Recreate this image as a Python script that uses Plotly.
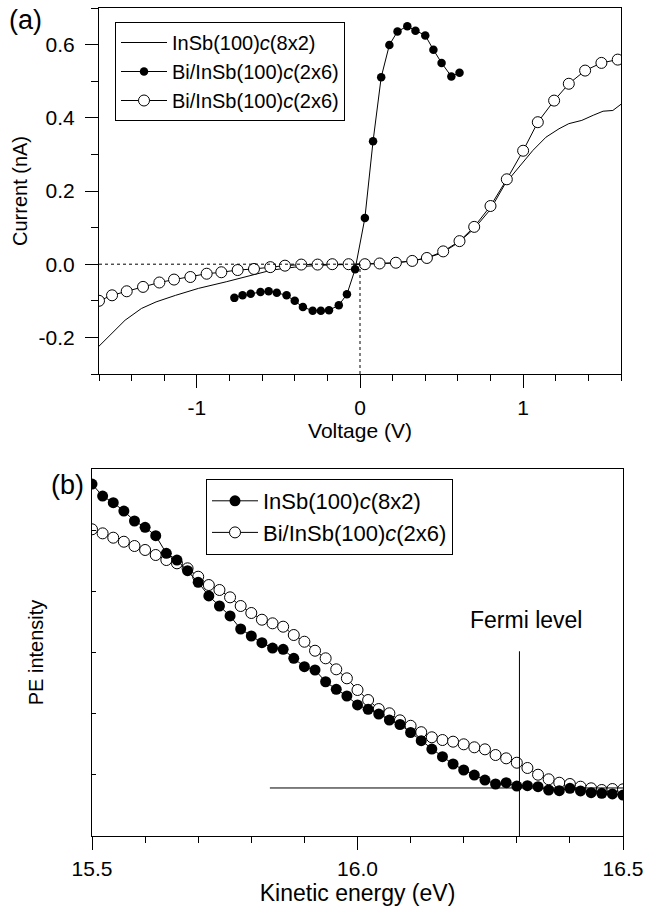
import plotly.graph_objects as go

# ---------------- Panel (a) data: I-V curves ----------------
v_line = [-1.6, -1.54, -1.44, -1.34, -1.25, -1.13, -0.99, -0.82, -0.66, -0.54, -0.4, -0.25,
          -0.1, 0.0, 0.1, 0.2, 0.3, 0.4, 0.5, 0.6, 0.7, 0.8, 0.89, 0.99, 1.06, 1.14, 1.22,
          1.28, 1.36, 1.43, 1.49, 1.55, 1.6]
i_line = [-0.224, -0.198, -0.153, -0.121, -0.103, -0.085, -0.066, -0.048, -0.030, -0.016,
          -0.008, -0.003, -0.001, 0.0, 0.001, 0.003, 0.008, 0.016, 0.030, 0.058, 0.097,
          0.150, 0.220, 0.275, 0.311, 0.347, 0.370, 0.384, 0.393, 0.407, 0.418, 0.420, 0.437]

v_filled = [-0.77, -0.72, -0.67, -0.61, -0.56, -0.51, -0.45, -0.40, -0.35, -0.29, -0.24,
            -0.19, -0.13, -0.08, -0.03, 0.03, 0.08, 0.13, 0.18, 0.23, 0.29, 0.34, 0.40,
            0.45, 0.50, 0.56, 0.61]
i_filled = [-0.092, -0.085, -0.081, -0.076, -0.074, -0.078, -0.085, -0.100, -0.117, -0.127,
            -0.127, -0.126, -0.112, -0.082, -0.014, 0.126, 0.336, 0.511, 0.599, 0.636,
            0.650, 0.638, 0.625, 0.586, 0.550, 0.513, 0.523]

v_open = [-1.60, -1.52, -1.43, -1.33, -1.23, -1.14, -1.04, -0.94, -0.85, -0.75, -0.65,
          -0.55, -0.46, -0.36, -0.26, -0.17, -0.07, 0.03, 0.12, 0.22, 0.32, 0.41, 0.51,
          0.61, 0.70, 0.80, 0.90, 1.00, 1.09, 1.19, 1.28, 1.38, 1.48, 1.58]
i_open = [-0.100, -0.085, -0.074, -0.062, -0.050, -0.042, -0.035, -0.026, -0.022, -0.016,
          -0.013, -0.008, -0.004, -0.001, -0.001, 0.0, 0.0, 0.0, 0.002, 0.004, 0.009,
          0.017, 0.035, 0.063, 0.102, 0.159, 0.232, 0.310, 0.388, 0.447, 0.493, 0.529,
          0.550, 0.559]

labels_a = ["InSb(100)<i>c</i>(8x2)", "Bi/InSb(100)<i>c</i>(2x6)", "Bi/InSb(100)<i>c</i>(2x6)"]

v_ticks = [-1, 0, 1]
v_ticktext = ["-1", "0", "1"]
i_ticks = [-0.2, 0.0, 0.2, 0.4, 0.6]
i_ticktext = ["-0.2", "0.0", "0.2", "0.4", "0.6"]

zero_h_x = [-1.6, 0.0]
zero_h_y = [0.0, 0.0]
zero_v_x = [0.0, 0.0]
zero_v_y = [-0.3, 0.0]

# ---------------- Panel (b) data: photoemission ----------------
ke = [round(15.5 + 0.02 * k, 2) for k in range(51)]  # 0.02 eV sampling grid
pe_insb = [5.754, 5.558, 5.449, 5.313, 5.150, 5.047, 4.909, 4.622, 4.512, 4.337, 4.148,
           3.924, 3.760, 3.597, 3.384, 3.270, 3.160, 3.073, 3.052, 2.905, 2.768, 2.714,
           2.522, 2.398, 2.289, 2.142, 2.071, 1.994, 1.896, 1.823, 1.692, 1.558, 1.422,
           1.296, 1.177, 1.079, 0.997, 0.915, 0.850, 0.871, 0.817, 0.822, 0.806, 0.752,
           0.741, 0.780, 0.736, 0.708, 0.698, 0.687, 0.670]
pe_bi = [5.014, 4.948, 4.877, 4.811, 4.741, 4.676, 4.594, 4.512, 4.458, 4.376, 4.239,
         4.103, 4.022, 3.902, 3.760, 3.646, 3.536, 3.477, 3.422, 3.286, 3.176, 3.029,
         2.905, 2.725, 2.578, 2.387, 2.223, 2.076, 2.006, 1.891, 1.802, 1.697, 1.614,
         1.569, 1.542, 1.499, 1.450, 1.417, 1.324, 1.270, 1.198, 1.112, 1.002, 0.927,
         0.871, 0.850, 0.806, 0.780, 0.752, 0.768, 0.763]
labels_b = ["InSb(100)<i>c</i>(8x2)", "Bi/InSb(100)<i>c</i>(2x6)"]

ke_ticks = [15.5, 16.0, 16.5]
ke_ticktext = ["15.5", "16.0", "16.5"]

fermi_x = [16.305, 16.305]
fermi_y = [0.0, 3.02]
base_x = [15.835, 16.5]
base_y = [0.785, 0.785]

FONT = "Liberation Sans, Arial, sans-serif"
W, H = 647, 911

fig = go.Figure()

# Panel (a)
fig.add_trace(go.Scatter(x=v_line, y=i_line, mode="lines", name=labels_a[0],
                         line=dict(color="black", width=1), legend="legend", legendrank=1,
                         xaxis="x", yaxis="y"))
fig.add_trace(go.Scatter(x=v_open, y=i_open, mode="lines+markers", name=labels_a[2],
                         line=dict(color="black", width=1),
                         marker=dict(symbol="circle", size=11, color="white",
                                     line=dict(color="black", width=1)),
                         legend="legend", legendrank=3, xaxis="x", yaxis="y"))
fig.add_trace(go.Scatter(x=v_filled, y=i_filled, mode="lines+markers", name=labels_a[1],
                         line=dict(color="black", width=1),
                         marker=dict(symbol="circle", size=8.5, color="black",
                                     line=dict(color="black", width=0)),
                         legend="legend", legendrank=2, xaxis="x", yaxis="y"))

# Panel (b)
fig.add_trace(go.Scatter(x=ke, y=pe_bi, mode="lines+markers", name=labels_b[1],
                         line=dict(color="black", width=1),
                         marker=dict(symbol="circle", size=11, color="white",
                                     line=dict(color="black", width=1)),
                         legend="legend2", legendrank=2, xaxis="x2", yaxis="y2"))
fig.add_trace(go.Scatter(x=ke, y=pe_insb, mode="lines+markers", name=labels_b[0],
                         line=dict(color="black", width=1),
                         marker=dict(symbol="circle", size=11, color="black",
                                     line=dict(color="black", width=0)),
                         legend="legend2", legendrank=1, xaxis="x2", yaxis="y2"))

# reference lines
shapes = [
    dict(type="line", xref="x", yref="y", x0=zero_h_x[0], x1=zero_h_x[1],
         y0=zero_h_y[0], y1=zero_h_y[1], line=dict(color="black", width=1, dash="dot")),
    dict(type="line", xref="x", yref="y", x0=zero_v_x[0], x1=zero_v_x[1],
         y0=zero_v_y[0], y1=zero_v_y[1], line=dict(color="black", width=1, dash="dot")),
    dict(type="line", xref="x2", yref="y2", x0=fermi_x[0], x1=fermi_x[1],
         y0=fermi_y[0], y1=fermi_y[1], line=dict(color="black", width=1)),
    dict(type="line", xref="x2", yref="y2", x0=base_x[0], x1=base_x[1],
         y0=base_y[0], y1=base_y[1], line=dict(color="black", width=1)),
]

axis_common = dict(showline=True, linecolor="black", linewidth=1, mirror=True,
                   showgrid=False, zeroline=False, tickcolor="black", tickwidth=1,
                   automargin=False)

fig.update_layout(
    template="none",
    width=W, height=H,
    margin=dict(l=0, r=0, t=0, b=0, pad=0),
    paper_bgcolor="white", plot_bgcolor="white",
    font=dict(family=FONT, size=20, color="black"),
    shapes=shapes,
    xaxis=dict(domain=[99 / W, 621 / W], anchor="y", range=[-1.6, 1.6],
               tickmode="array", tickvals=v_ticks, ticktext=v_ticktext,
               ticks="outside", ticklen=13, ticklabelstandoff=2,
               tickfont=dict(family=FONT, size=21, color="black"),
               minor=dict(tickmode="linear", tick0=0, dtick=0.2, ticks="outside",
                          ticklen=6, tickcolor="black", showgrid=False),
               title=dict(text="Voltage (V)", font=dict(family=FONT, size=21), standoff=5),
               **axis_common),
    yaxis=dict(domain=[(H - 374) / H, (H - 8) / H], anchor="x", range=[-0.3, 0.7],
               tickmode="array", tickvals=i_ticks, ticktext=i_ticktext,
               ticks="outside", ticklen=13, ticklabelstandoff=6,
               tickfont=dict(family=FONT, size=21, color="black"),
               minor=dict(tickmode="linear", tick0=0, dtick=0.1, ticks="outside",
                          ticklen=7, tickcolor="black", showgrid=False),
               title=dict(text="Current (nA)", font=dict(family=FONT, size=20), standoff=5),
               **axis_common),
    xaxis2=dict(domain=[92 / W, 623 / W], anchor="y2", range=[15.5, 16.5],
                tickmode="array", tickvals=ke_ticks, ticktext=ke_ticktext,
                ticks="outside", ticklen=13, ticklabelstandoff=1,
                tickfont=dict(family=FONT, size=21, color="black"),
                minor=dict(tickmode="linear", tick0=15.5, dtick=0.1, ticks="outside",
                           ticklen=6, tickcolor="black", showgrid=False),
                title=dict(text="Kinetic energy (eV)", font=dict(family=FONT, size=23), standoff=2),
                **axis_common),
    yaxis2=dict(domain=[(H - 836) / H, (H - 469) / H], anchor="x2", range=[0, 6],
                tickmode="linear", tick0=0, dtick=1, ticks="inside", ticklen=4,
                showticklabels=False,
                title=dict(text="PE intensity", font=dict(family=FONT, size=20), standoff=42),
                **axis_common),
    legend=dict(x=115 / W, y=1 - 22 / H, xanchor="left", yanchor="top",
                bordercolor="black", borderwidth=1, bgcolor="white",
                font=dict(family=FONT, size=20, color="black"), itemwidth=46,
                tracegroupgap=0),
    legend2=dict(x=206 / W, y=1 - 479 / H, xanchor="left", yanchor="top",
                 bordercolor="black", borderwidth=1, bgcolor="white",
                 font=dict(family=FONT, size=22, color="black"), itemwidth=46,
                 tracegroupgap=0),
    annotations=[
        dict(text="(a)", xref="paper", yref="paper", x=25 / W, y=1 - 20 / H,
             showarrow=False, font=dict(family=FONT, size=27, color="black"),
             xanchor="center", yanchor="middle"),
        dict(text="(b)", xref="paper", yref="paper", x=67 / W, y=1 - 485 / H,
             showarrow=False, font=dict(family=FONT, size=27, color="black"),
             xanchor="center", yanchor="middle"),
        dict(text="Fermi level", xref="x2", yref="y2", x=16.317, y=3.53,
             showarrow=False, font=dict(family=FONT, size=23, color="black"),
             xanchor="center", yanchor="middle"),
    ],
)

fig.write_html("out.html", config={"displayModeBar": False},
               post_script="document.body.style.margin='0';")
